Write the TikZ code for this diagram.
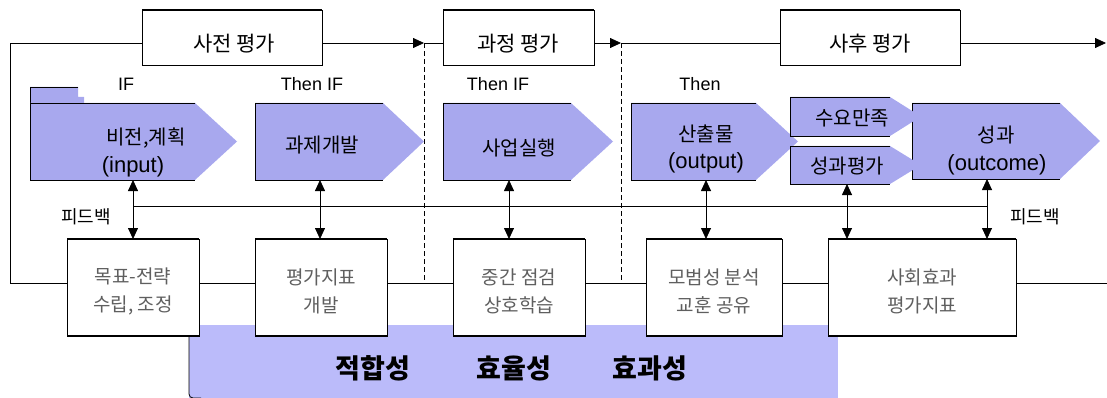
\documentclass[tikz,border=0pt]{standalone}
\usepackage{fontspec}
\setmainfont{Noto Sans CJK KR}
\newfontfamily\lat{Liberation Sans}
\usetikzlibrary{arrows.meta,calc,fit}
\definecolor{pfill}{RGB}{168,168,238}
\definecolor{bandfill}{RGB}{187,187,250}
\definecolor{boxtext}{RGB}{95,95,95}
\tikzset{
  x=1pt, y=-1pt,
  every node/.style={inner sep=0pt, outer sep=0pt},
  thin line/.style={line width=0.8pt, draw=black},
  kr/.style={font=\fontsize{20}{29}\selectfont, align=center},
  evtext/.style={font=\fontsize{21}{24}\selectfont},
  latbig/.style={font=\lat\fontsize{22}{24}\selectfont},
  lab/.style={font=\lat\fontsize{18}{20}\selectfont},
  fbtext/.style={font=\fontsize{18}{20}\selectfont},
  btext/.style={font=\fontsize{19}{28}\selectfont, align=center, text=boxtext},
  bandtext/.style={font=\bfseries\fontsize{27}{30}\selectfont},
  evalbox/.style={draw=black, line width=0.7pt, fill=white, inner sep=0pt},
  lowbox/.style={draw=black, line width=0.8pt, fill=white, inner sep=0pt},
  frame/.style={inner sep=0pt},
  arr/.style={line width=0.8pt, -{Triangle[length=11pt,width=10pt]}},
  dbl/.style={line width=0.8pt, {Triangle[length=11pt,width=10pt]}-{Triangle[length=11pt,width=10pt]}},
  dashline/.style={line width=0.8pt, dash pattern=on 5pt off 3pt},
}
% #1 name, #2 left, #3 top, #4 tip x, #5 bottom, #6 slope start
\newcommand\pentshape[6]{%
  \coordinate (#1-a) at (#2,#3);
  \coordinate (#1-b) at (#4,#5);
  \node[frame, fit=(#1-a)(#1-b)] (#1) {};
  \fill[pfill] (#2,#3) -- (#6,#3) -- (#4,{(#3+#5)/2}) -- (#6,#5) -- (#2,#5) -- cycle;
  \draw[thin line] (#6,#3) -- (#2,#3) -- (#2,#5) -- (#6,#5);
}
% #1 style, #2 name, #3 left, #4 top, #5 right, #6 bottom
\newcommand\fitbox[6]{%
  \coordinate (#2-a) at (#3,#4);
  \coordinate (#2-b) at (#5,#6);
  \node[#1, fit=(#2-a)(#2-b)] (#2) {};
}
\begin{document}
\begin{tikzpicture}
\useasboundingbox (0,0) rectangle (1107,398);

% ---- loop line and evaluation stages ----
\coordinate (loopR) at (1107,283);
\coordinate (loopBL) at (10,283);
\coordinate (loopTL) at (10,43);
\coordinate (d1) at (424,43);
\coordinate (d2) at (621,43);
\coordinate (endR) at (1106,43);
\coordinate (d1b) at (424,283);
\coordinate (d2b) at (621,283);
\draw[thin line] (loopR) -- (loopBL) -- (loopTL);
\draw[arr] (loopTL) -- (d1);
\draw[arr] (d1) -- (d2);
\draw[arr] (d2) -- (endR);
\draw[dashline] (d1) -- (d1b);
\draw[dashline] (d2) -- (d2b);

\fitbox{evalbox}{pre}{142}{10}{322}{65}
\fitbox{evalbox}{mid}{443}{10}{594}{65}
\fitbox{evalbox}{post}{780}{10}{960}{65}
\foreach \b in {pre,mid,post}
  \draw[line width=2pt] (\b.north west) -- (\b.north east);
\node[evtext] (preT) at (234,44) {사전 평가};
\node[evtext] (midT) at (518,44) {과정 평가};
\node[evtext] (postT) at (870,44) {사후 평가};

% ---- condition labels ----
\node[lab] (l1) at (126,84) {IF};
\node[lab] (l2) at (312,84) {Then IF};
\node[lab] (l3) at (498,84) {Then IF};
\node[lab] (l4) at (700,84) {Then};

% ---- logic chain ----
\fill[pfill] (30,87) -- (78,87) -- (78,97) -- (84,97) -- (84,103) -- (30,103) -- cycle;
\draw[thin line] (78,87) -- (30,87) -- (30,103);
\pentshape{p1}{30}{103}{237}{180}{195}
\pentshape{p2}{255}{103}{424}{180}{383}
\pentshape{p3}{443}{103}{613}{180}{571}
\pentshape{p7}{912}{103}{1100}{179}{1060}
\pentshape{p4}{631}{103}{798}{180}{756}
\pentshape{p5}{790}{97}{921}{136}{890}
\pentshape{p6}{790}{146}{921}{184}{890}

\node[kr] (p1T) at (146,138) {비전,계획};
\node[latbig] (p1L) at (133,167) {(input)};
\node[kr] (p2T) at (322,145) {과제개발};
\node[kr] (p3T) at (519,148) {사업실행};
\node[kr] (p4T) at (706,134) {산출물};
\node[latbig] (p4L) at (706,163) {(output)};
\node[kr] (p5T) at (852,118) {수요만족};
\node[kr] (p6T) at (847,166) {성과평가};
\node[kr] (p7T) at (996,135) {성과};
\node[latbig] (p7L) at (997,165) {(outcome)};

% ---- band of criteria ----
\fitbox{frame}{band}{189}{325}{838}{398}
\fill[bandfill] (band.north west) rectangle (band.south east);
\draw[thin line, rounded corners=4pt] (band.north west) -- (band.south west) -- ($(band.south west)+(12,0)$);
\node[bandtext] (c1) at (373,368) {적합성};
\node[bandtext] (c2) at (514,368) {효율성};
\node[bandtext] (c3) at (650,368) {효과성};

% ---- lower boxes ----
\fitbox{lowbox}{b1}{67}{239}{199}{336}
\fitbox{lowbox}{b2}{255}{239}{387}{336}
\fitbox{lowbox}{b3}{453}{239}{585}{336}
\fitbox{lowbox}{b4}{646}{239}{782}{336}
\fitbox{lowbox}{b5}{828}{239}{1016}{336}
\foreach \b in {b1,b2,b3,b4,b5}{
  \draw[line width=1.3pt] (\b.north west) -- (\b.north east);
  \draw[line width=1.3pt] (\b.south west) -- (\b.south east);
}
\node[btext] (b1T) at (133,291) {목표-전략\\수립, 조정};
\node[btext] (b2T) at (321,291) {평가지표\\개발};
\node[btext] (b3T) at (519,291) {중간 점검\\상호학습};
\node[btext] (b4T) at (714,291) {모범성 분석\\교훈 공유};
\node[btext] (b5T) at (922,291) {사회효과\\평가지표};

% ---- feedback ----
\coordinate (f1) at (133,206);
\coordinate (f2) at (320,206);
\coordinate (f3) at (509,206);
\coordinate (f4) at (706,206);
\coordinate (f5) at (847,206);
\coordinate (f6) at (987,206);
\draw[thin line] (f1) -- (f6);
\draw[dbl] (p1.south -| f1) -- (b1.north -| f1);
\draw[dbl] (p2.south -| f2) -- (b2.north -| f2);
\draw[dbl] (p3.south -| f3) -- (b3.north -| f3);
\draw[dbl] (p4.south -| f4) -- (b4.north -| f4);
\draw[dbl] (p6.south -| f5) -- (b5.north -| f5);
\draw[dbl] (p7.south -| f6) -- (b5.north -| f6);
\node[fbtext] (fbL) at (86,217) {피드백};
\node[fbtext] (fbR) at (1035,217) {피드백};
\end{tikzpicture}
\end{document}
